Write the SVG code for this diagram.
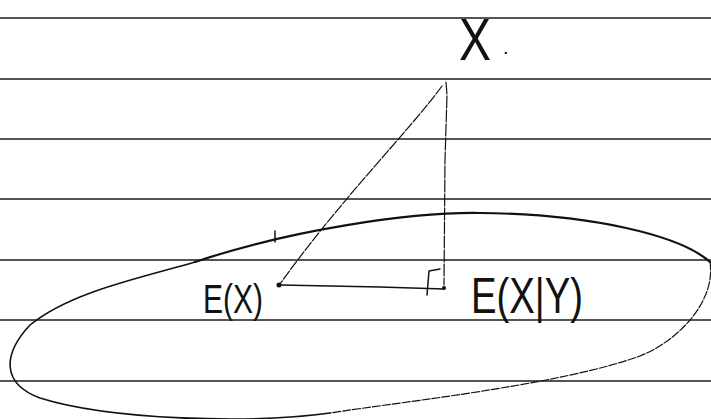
<svg xmlns="http://www.w3.org/2000/svg" width="711" height="419" viewBox="0 0 711 419">
<style>
.rule{stroke:#555;stroke-width:2}
.ink{fill:none;stroke:#111;stroke-linecap:round;stroke-linejoin:round}
.lbl{font-family:"Liberation Sans","DejaVu Sans",sans-serif;fill:#111;font-weight:normal}
</style>
<rect width="711" height="419" fill="#fff"/>
<g id="paper-lines">
<line class="rule" x1="0" y1="18" x2="711" y2="18"/>
<line class="rule" x1="0" y1="79" x2="711" y2="79"/>
<line class="rule" x1="0" y1="139" x2="711" y2="139"/>
<line class="rule" x1="0" y1="199" x2="711" y2="199"/>
<line class="rule" x1="0" y1="260" x2="711" y2="260"/>
<line class="rule" x1="0" y1="320" x2="711" y2="320"/>
<line class="rule" x1="0" y1="381" x2="711" y2="381"/>
</g>
<g id="ellipse">
<path class="ink" stroke-width="2.2" d="M195,262 C290,230 410,212 480,213 C590,214 680,235 710,262"/>
<path class="ink" stroke-width="1.2" stroke-dasharray="8 2" d="M710,262 C716,300 680,340 640,356 C560,385 400,402 330,413"/>
<path class="ink" stroke-width="1.6" d="M330,413 C250,424 110,420 40,398 C2,384 2,355 30,325 C70,292 140,278 195,262"/>
<line class="ink" stroke-width="1.5" x1="275" y1="231" x2="275" y2="242"/>
</g>
<g id="connectors">
<path class="ink" stroke-width="1.2" stroke-dasharray="10 2" d="M442,86 C410,130 340,200 280,284"/>
<path class="ink" stroke-width="1.2" stroke-dasharray="12 2" d="M446,82 L447,95 L445,160 L444,285"/>
<path class="ink" stroke-width="1.5" d="M280,285 L380,287 L444,289"/>
<path class="ink" stroke-width="1.5" d="M427,295 L429,271 L440,269"/>
<circle cx="279" cy="285" r="2.5" fill="#111"/>
<circle cx="444" cy="288" r="2" fill="#111"/>
</g>
<g id="node-X">
<text class="lbl" x="459" y="60" font-size="60" textLength="32" lengthAdjust="spacingAndGlyphs">X</text>
<text class="lbl" x="503" y="54" font-size="20">.</text>
</g>
<g id="node-EX">
<text class="lbl" x="203" y="313" font-size="40" textLength="60" lengthAdjust="spacingAndGlyphs">E(X)</text>
</g>
<g id="node-EXY">
<text class="lbl" x="471" y="313" font-size="50" textLength="112" lengthAdjust="spacingAndGlyphs">E(X|Y)</text>
</g>
</svg>
